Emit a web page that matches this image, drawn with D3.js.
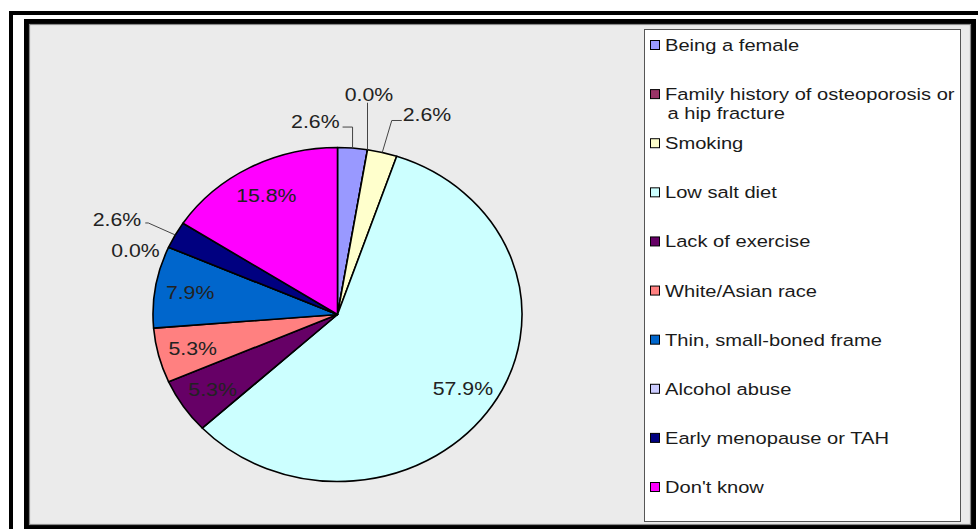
<!DOCTYPE html>
<html>
<head>
<meta charset="utf-8">
<script src="https://cdn.jsdelivr.net/npm/d3@7"></script>
<style>
  body { margin: 0; background: #fff; }
  svg { display: block; font-family: Arial, "Liberation Sans", sans-serif; }
</style>
</head>
<body>
<div id="app"></div>
<script>
// data
const categories = [
  "Being a female",
  "Family history of osteoporosis or\na hip fracture",
  "Smoking",
  "Low salt diet",
  "Lack of exercise",
  "White/Asian race",
  "Thin, small-boned frame",
  "Alcohol abuse",
  "Early menopause or TAH",
  "Don't know"
];
const values = [2.6, 0.0, 2.6, 57.9, 5.3, 5.3, 7.9, 0.0, 2.6, 15.8];
const colors = ["#9999ff", "#993366", "#ffffcc", "#ccffff", "#660066",
                "#ff8080", "#0066cc", "#ccccff", "#000080", "#ff00ff"];

const w = 978;
const h = 529;

const rows = categories.map((c, i) => ({ name: c, value: values[i], color: colors[i] }));
const fmt = (v) => d3.format(".1f")(v) + "%";

const svg = d3.select("#app")
  .append("svg")
  .attr("width", w)
  .attr("height", h);

//////////FRAMES//////////

svg.append("rect")
  .attr("x", 11).attr("y", 13)
  .attr("width", 1000).attr("height", 540)
  .attr("fill", "#fff")
  .attr("stroke", "#000")
  .attr("stroke-width", 4);

svg.append("rect")
  .attr("x", 26.5).attr("y", 21.5)
  .attr("width", 947).attr("height", 506)
  .attr("fill", "#ebebeb")
  .attr("stroke", "#000")
  .attr("stroke-width", 5);

svg.append("rect")
  .attr("x", 29.5).attr("y", 24.5)
  .attr("width", 941).attr("height", 500)
  .attr("fill", "none")
  .attr("stroke", "#8a8a8a")
  .attr("stroke-width", 1.2);

//////////PIE//////////

const cx = 337.5, cy = 314.5;
const r = 167;
const sx = 184.5 / 167; // picture is a little wider than tall

const pie = d3.pie().sort(null).value((d) => d.value);
const arcs = pie(rows);

const arc = d3.arc().innerRadius(0).outerRadius(r);
const edgeArc = d3.arc().innerRadius(r).outerRadius(r);
const labelArc = d3.arc().innerRadius(r * 0.81).outerRadius(r * 0.81);

const toScreen = ([x, y]) => [cx + x * sx, cy + y];

svg.append("g")
  .attr("transform", `translate(${cx},${cy}) scale(${sx},1)`)
  .selectAll("path")
  .data(arcs)
  .enter()
  .append("path")
  .attr("d", arc)
  .attr("fill", (d) => d.data.color)
  .attr("stroke", "#000")
  .attr("stroke-width", 1.6)
  .attr("stroke-linejoin", "round")
  .attr("vector-effect", "non-scaling-stroke");

const pieFont = 19, pieStretch = 1.12;

// big slices: label inside
svg.append("g")
  .selectAll("text")
  .data(arcs.filter((d) => d.data.value >= 3))
  .enter()
  .append("text")
  .attr("transform", (d) => {
    const [x, y] = toScreen(labelArc.centroid(d));
    return `translate(${x},${y}) scale(${pieStretch},1)`;
  })
  .attr("text-anchor", "middle")
  .attr("dy", "0.36em")
  .attr("font-size", pieFont)
  .attr("fill", "#222")
  .text((d) => fmt(d.data.value));

// small slices: callouts (offsets from the slice edge)
const callouts = {
  0: { leg: [0, -21], tail: -10, anchor: "end", tx: -3, ty: 1 },
  1: { leg: [0, -47], tail: 0, anchor: "middle", tx: 1.5, ty: -2 },
  2: { leg: [9.5, -32], tail: 10, anchor: "start", tx: 1, ty: 1 },
  7: { leg: null, tail: 0, anchor: "end", tx: -9, ty: 10 },
  8: { leg: [-27, -12], tail: -3, anchor: "end", tx: -4, ty: 3 }
};

const small = arcs.filter((d) => d.data.value < 3);
const leaders = svg.append("g");

small.forEach((d) => {
  const c = callouts[d.index];
  const [ex, ey] = toScreen(edgeArc.centroid(d));
  let end = [ex, ey];
  if (c.leg) {
    const elbow = [ex + c.leg[0], ey + c.leg[1]];
    end = [elbow[0] + c.tail, elbow[1]];
    leaders.append("path")
      .attr("d", d3.line()([[ex, ey], elbow, end]))
      .attr("fill", "none")
      .attr("stroke", "#444")
      .attr("stroke-width", 1);
  }
  leaders.append("text")
    .attr("transform", `translate(${end[0] + c.tx},${end[1] + c.ty}) scale(${pieStretch},1)`)
    .attr("text-anchor", c.anchor)
    .attr("font-size", pieFont)
    .attr("fill", "#222")
    .text(fmt(d.data.value));
});

//////////LEGEND//////////

svg.append("rect")
  .attr("x", 644.5).attr("y", 29.5)
  .attr("width", 316).attr("height", 492)
  .attr("fill", "#fff")
  .attr("stroke", "#555")
  .attr("stroke-width", 1);

const ly = d3.scalePoint().domain(categories).range([45, 487]);
const legendStretch = 1.22;

const item = svg.append("g")
  .selectAll("g")
  .data(rows)
  .enter()
  .append("g")
  .attr("transform", (d) => `translate(650,${ly(d.name)})`);

item.append("rect")
  .attr("x", 0.5).attr("y", -4.5)
  .attr("width", 9).attr("height", 9)
  .attr("fill", (d) => d.color)
  .attr("stroke", "#000")
  .attr("stroke-width", 1);

item.append("text")
  .attr("transform", `translate(15,0) scale(${legendStretch},1)`)
  .attr("font-size", 16.5)
  .attr("fill", "#1a1a1a")
  .selectAll("tspan")
  .data((d) => d.name.split("\n"))
  .enter()
  .append("tspan")
  .attr("x", (d, i) => (i ? 2 : 0))
  .attr("y", (d, i) => i * 19)
  .attr("dy", "0.36em")
  .text((d) => d);
</script>
</body>
</html>
